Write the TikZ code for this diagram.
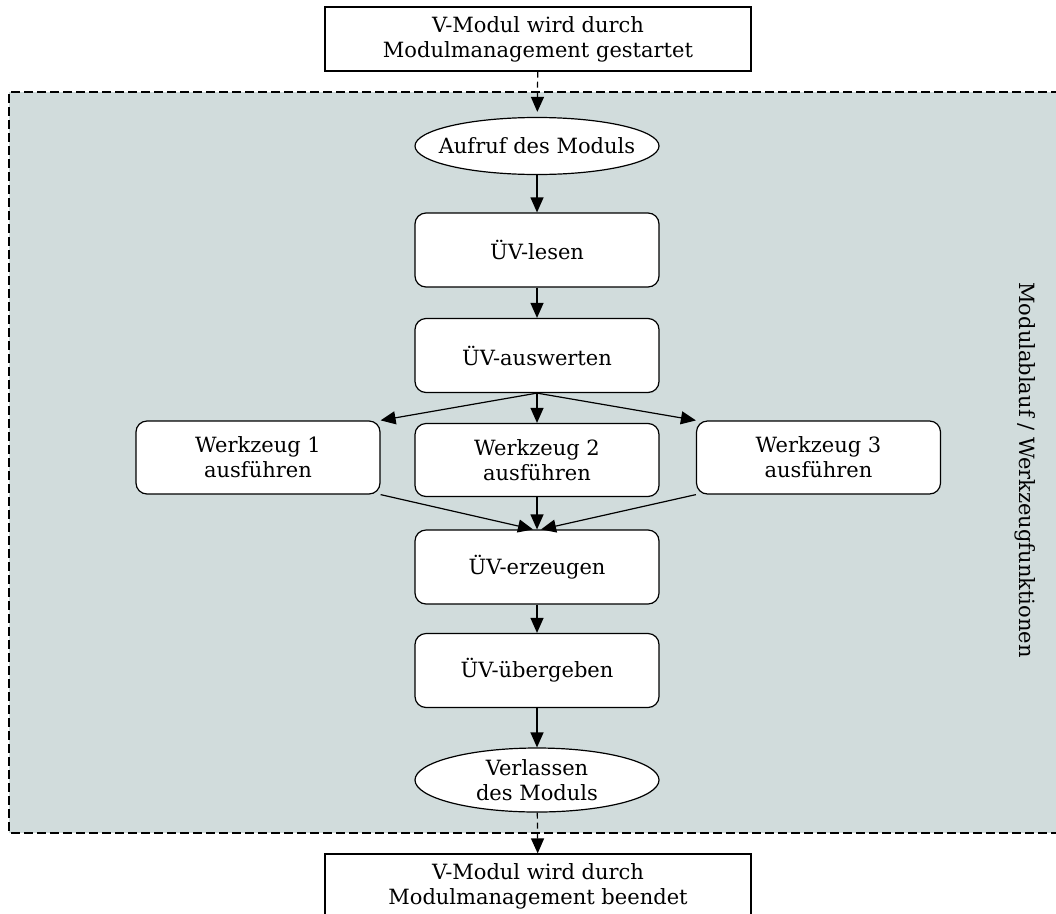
\documentclass[tikz,border=0pt]{standalone}
\usepackage{fontspec}
\setmainfont{DejaVu Serif}
\usepackage{xcolor}
\usetikzlibrary{arrows.meta, shapes.geometric}
\definecolor{moduleshade}{HTML}{D1DCDC}

\begin{document}
\begin{tikzpicture}[x=1pt, y=-1pt,
    % Process steps: white rounded rectangles.
    stepbox/.style={rectangle, draw=black, fill=white, line width=1.2pt,
                    rounded corners=11pt, minimum width=244pt,
                    minimum height=74pt, align=center,
                    font=\fontsize{21}{25}\selectfont},
    % Entry and exit of the module: white ellipses.
    terminal/.style={ellipse, draw=black, fill=white, line width=1.2pt,
                     inner sep=0pt, minimum width=244pt,
                     minimum height=57pt, align=center,
                     font=\fontsize{21}{25}\selectfont},
    % Module management boxes outside the shaded area.
    outerbox/.style={rectangle, draw=black, fill=white, line width=1.2pt,
                     minimum width=426pt, minimum height=64pt,
                     align=center, font=\fontsize{21}{25}\selectfont},
    % Control flow inside the module.
    flow/.style={-{Triangle[length=15pt, width=13pt]}, line width=1.2pt},
    % Hand-over to and from the module management.
    handover/.style={flow, dash pattern=on 6pt off 4pt}
]
    \useasboundingbox (0,0) rectangle (1056,913);

    % === Shaded module area ===
    \fill[moduleshade] (9,92) rectangle (1060,833);
    \draw[line width=2pt, dash pattern=on 9pt off 4pt]
        (1060,92) -- (9,92) -- (9,833) -- (1060,833);
    \node[rotate=-90, font=\fontsize{21}{25}\selectfont] (side) at (1025,470)
        {Modulablauf / Werkzeugfunktionen};

    % === Module management ===
    \node[outerbox] (start) at (538,39)
        {V-Modul wird durch\\Modulmanagement gestartet};
    \node[outerbox] (ende) at (538,886)
        {V-Modul wird durch\\Modulmanagement beendet};

    % === Module steps ===
    % negative xsep keeps the ellipse as narrow as the boxes below
    \node[terminal, inner xsep=-14pt] (aufruf) at (537,146)
        {Aufruf des Moduls};
    \node[stepbox] (lesen)      at (537,250)   {ÜV-lesen};
    \node[stepbox] (auswerten)  at (537,355.5) {ÜV-auswerten};

    % Tool calls, side by side
    \node[stepbox, minimum height=73pt] (wz1) at (258,457.5)
        {Werkzeug 1\\ausführen};
    \node[stepbox, minimum height=73pt] (wz2) at (537,460)
        {Werkzeug 2\\ausführen};
    \node[stepbox, minimum height=73pt] (wz3) at (818.5,457.5)
        {Werkzeug 3\\ausführen};

    \node[stepbox] (erzeugen)   at (537,567)   {ÜV-erzeugen};
    \node[stepbox] (uebergeben) at (537,670.5) {ÜV-übergeben};
    \node[terminal, minimum height=64pt] (verlassen) at (537,780)
        {Verlassen\\des Moduls};

    % === Connectors ===
    \draw[handover, shorten >=5pt] (start) -- (aufruf);
    \draw[flow] (aufruf) -- (lesen);
    \draw[flow] (lesen) -- (auswerten);

    % fan out to the tools
    \draw[flow] (auswerten.south) -- (wz1.north east);
    \draw[flow] (auswerten) -- (wz2);
    \draw[flow] (auswerten.south) -- (wz3.north west);

    % and back together
    \draw[flow] (wz1.south east) -- ([xshift=-4pt]erzeugen.north);
    \draw[flow] (wz2) -- (erzeugen);
    \draw[flow] (wz3.south west) -- ([xshift=4pt]erzeugen.north);

    \draw[flow] (erzeugen) -- (uebergeben);
    \draw[flow] (uebergeben) -- (verlassen);
    \draw[handover] (verlassen) -- (ende);
\end{tikzpicture}
\end{document}
